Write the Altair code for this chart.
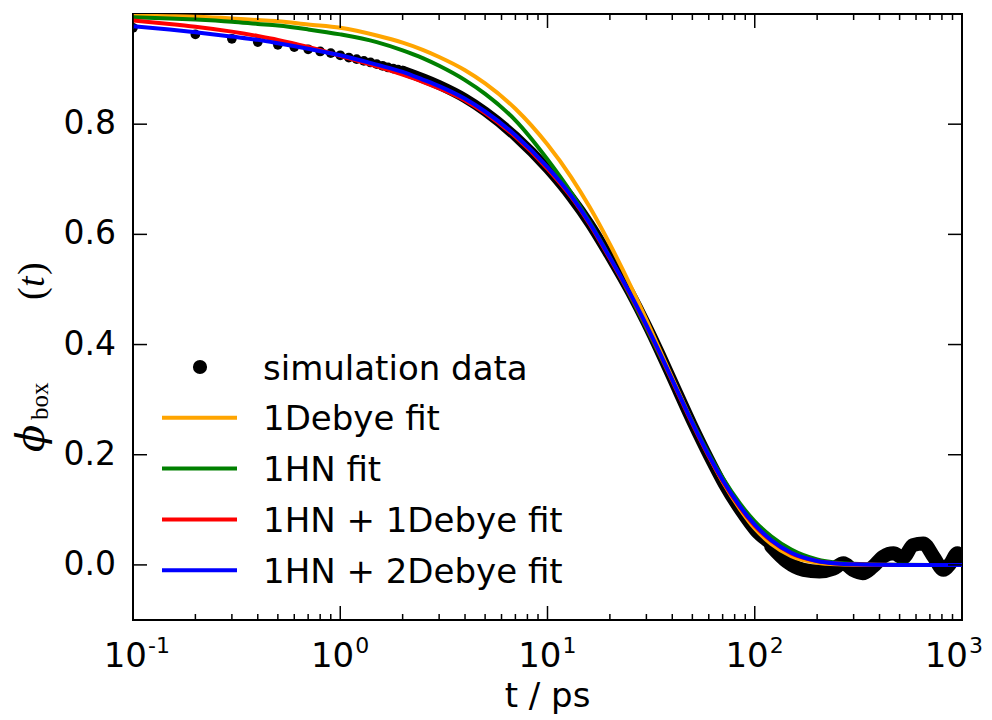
import altair as alt
import pandas as pd

# ---------------- data ----------------
t_fit = [0.1, 0.15, 0.2, 0.3, 0.4, 0.5, 0.7, 1, 1.5, 2, 2.5, 3, 4, 5, 7, 10, 13, 16, 20,
         25, 30, 35, 40, 50, 60, 70, 85, 100, 120, 150, 200, 250, 300, 400, 500, 700, 1000]

debye1 = [0.997, 0.996, 0.995, 0.992, 0.989, 0.987, 0.981, 0.975, 0.961, 0.948, 0.935, 0.922,
          0.898, 0.874, 0.828, 0.763, 0.704, 0.649, 0.582, 0.509, 0.445, 0.388, 0.339, 0.259,
          0.198, 0.151, 0.101, 0.066, 0.038, 0.016, 0.004, 0.001, 0.0003, 0.0, 0.0, 0.0, 0.0]

hn1 = [0.994, 0.992, 0.990, 0.986, 0.982, 0.979, 0.972, 0.963, 0.949, 0.934, 0.920, 0.906,
       0.880, 0.855, 0.807, 0.736, 0.676, 0.622, 0.558, 0.489, 0.430, 0.379, 0.334, 0.259,
       0.202, 0.158, 0.111, 0.079, 0.052, 0.028, 0.010, 0.004, 0.002, 0.0005, 0.0002, 0.0, 0.0]

hn1_debye1 = [0.988, 0.982, 0.977, 0.968, 0.960, 0.953, 0.940, 0.924, 0.905, 0.890, 0.877, 0.865,
              0.843, 0.820, 0.777, 0.719, 0.668, 0.618, 0.556, 0.491, 0.433, 0.381, 0.334, 0.256,
              0.197, 0.152, 0.104, 0.071, 0.044, 0.021, 0.007, 0.0025, 0.001, 0.0002, 0.0, 0.0, 0.0]

hn1_debye2 = [0.978, 0.972, 0.967, 0.959, 0.953, 0.947, 0.937, 0.925, 0.908, 0.895, 0.881, 0.869,
              0.846, 0.823, 0.780, 0.722, 0.670, 0.620, 0.558, 0.493, 0.435, 0.383, 0.336, 0.258,
              0.199, 0.154, 0.106, 0.073, 0.045, 0.022, 0.007, 0.0025, 0.001, 0.0002, 0.0, 0.0, 0.0]

# simulation data: separate points at short times ...
t_sim_points = [0.1, 0.2, 0.3, 0.4, 0.5, 0.6, 0.7, 0.8, 0.9, 1.0,
                1.1, 1.2, 1.3, 1.4, 1.5, 1.6, 1.7, 1.8, 1.9, 2.0]
phi_sim_points = [0.975, 0.963, 0.955, 0.949, 0.944, 0.940, 0.936, 0.932, 0.929, 0.925,
                  0.921, 0.918, 0.915, 0.912, 0.909, 0.906, 0.903, 0.901, 0.899, 0.897]
# ... and the dense, overlapping points at longer times
t_sim_dense = [2, 3, 4, 5, 7, 10, 13, 16, 20, 25, 30, 35, 40, 50, 60, 70, 85, 100, 120, 143,
               172, 205, 239, 268, 297, 332, 370, 417, 467, 520, 580, 650, 729, 813, 880, 950, 1000]
phi_sim_dense = [0.897, 0.871, 0.847, 0.823, 0.778, 0.719, 0.667, 0.619, 0.559, 0.495, 0.437,
                 0.384, 0.336, 0.256, 0.195, 0.147, 0.096, 0.060, 0.034, 0.006, -0.009, -0.012,
                 -0.007, 0.003, -0.009, -0.015, -0.004, 0.015, 0.021, 0.013, 0.036, 0.039, 0.015,
                 -0.009, 0.003, 0.021, 0.015]

series_names = ["1Debye fit", "1HN fit", "1HN + 1Debye fit", "1HN + 2Debye fit"]
series_colors = ["#FFA500", "#008000", "#FF0000", "#0000FF"]
series_values = [debye1, hn1, hn1_debye1, hn1_debye2]
sim_label = "simulation data"

x_major = [0.1, 1, 10, 100, 1000]
x_exponents = ["-1", "0", "1", "2", "3"]
x_minor = [0.2, 0.3, 0.4, 0.5, 0.6, 0.7, 0.8, 0.9,
           2, 3, 4, 5, 6, 7, 8, 9,
           20, 30, 40, 50, 60, 70, 80, 90,
           200, 300, 400, 500, 600, 700, 800, 900]
y_major = [0.0, 0.2, 0.4, 0.6, 0.8]

# ---------------- layout ----------------
W, H = 829, 606
FONT = "DejaVu Sans"
SERIF = "Liberation Serif"
MAJ, MIN = 14, 6

xs = alt.Scale(type="log", domain=[0.1, 1000], nice=False)
ys = alt.Scale(domain=[-0.1, 1.0], nice=False, zero=False)


def X(f="t"):
    return alt.X(f"{f}:Q", scale=xs, axis=None)


def Y(f="phi"):
    return alt.Y(f"{f}:Q", scale=ys, axis=None)


one = pd.DataFrame({"k": [0]})
layers = []

# simulation data (black)
dense_df = pd.DataFrame({"t": t_sim_dense, "phi": phi_sim_dense})
pts_df = pd.DataFrame({"t": t_sim_points, "phi": phi_sim_points})
layers.append(alt.Chart(dense_df).mark_line(color="black", strokeWidth=10, strokeCap="round",
                                            strokeJoin="round", interpolate="monotone", clip=True)
              .encode(x=X(), y=Y()))
layers.append(alt.Chart(dense_df).transform_filter("datum.t >= 120")
              .mark_line(color="black", strokeWidth=14, strokeCap="round", strokeJoin="round",
                         interpolate="monotone", clip=True)
              .encode(x=X(), y=Y()))
layers.append(alt.Chart(pts_df).mark_circle(color="black", size=95, opacity=1, clip=True)
              .encode(x=X(), y=Y()))

# fit curves
for name, col, vals in zip(series_names, series_colors, series_values):
    df = pd.DataFrame({"t": t_fit, "phi": vals})
    layers.append(alt.Chart(df).mark_line(color=col, strokeWidth=4, interpolate="monotone",
                                          clip=True)
                  .encode(x=X(), y=Y()))

# inward ticks on all four sides
xmaj_df = pd.DataFrame({"t": x_major})
xmin_df = pd.DataFrame({"t": x_minor})
ymaj_df = pd.DataFrame({"phi": y_major})
for df, ln in ((xmaj_df, MAJ), (xmin_df, MIN)):
    layers.append(alt.Chart(df).mark_rule(color="black", strokeWidth=1.5)
                  .encode(x=X(), y=alt.value(H), y2=alt.value(H - ln)))
    layers.append(alt.Chart(df).mark_rule(color="black", strokeWidth=1.5)
                  .encode(x=X(), y=alt.value(0), y2=alt.value(ln)))
layers.append(alt.Chart(ymaj_df).mark_rule(color="black", strokeWidth=1.5)
              .encode(y=Y(), x=alt.value(0), x2=alt.value(MAJ)))
layers.append(alt.Chart(ymaj_df).mark_rule(color="black", strokeWidth=1.5)
              .encode(y=Y(), x=alt.value(W), x2=alt.value(W - MAJ)))

# y tick labels
layers.append(alt.Chart(ymaj_df).mark_text(font=FONT, fontSize=33, align="right",
                                           baseline="middle", color="black")
              .encode(y=Y(), x=alt.value(-17), text=alt.Text("phi:Q", format=".1f")))

# x tick labels 10^n (the last one is nudged left to stay inside the page)
xl_df = pd.DataFrame({"t": x_major, "e": x_exponents})
for flt, shift in (("datum.t < 500", 0), ("datum.t >= 500", -8)):
    layers.append(alt.Chart(xl_df).transform_filter(flt)
                  .mark_text(text="10", font=FONT, fontSize=34, align="right",
                             baseline="alphabetic", dx=14 + shift, color="black")
                  .encode(x=X(), y=alt.value(H + 47)))
    layers.append(alt.Chart(xl_df).transform_filter(flt)
                  .mark_text(font=FONT, fontSize=22, align="left",
                             baseline="alphabetic", dx=15 + shift, color="black")
                  .encode(x=X(), y=alt.value(H + 33), text="e:N"))

# x axis title
layers.append(alt.Chart(one).mark_text(text="t / ps", font=FONT, fontSize=34, align="center",
                                       baseline="alphabetic", color="black")
              .encode(x=alt.value(W / 2), y=alt.value(H + 87)))

# y axis title  phi_box (t)
ytitle = [("\u03d5", "DejaVu Serif", 40, "italic", -89, 438),
          ("box", SERIF, 25, "normal", -85, 406),
          ("(", SERIF, 38, "normal", -89, 286),
          ("t", SERIF, 38, "italic", -89, 273),
          (")", SERIF, 38, "normal", -89, 261)]
for txt, fnt, fs, sty, px, py in ytitle:
    layers.append(alt.Chart(one).mark_text(text=txt, font=fnt, fontSize=fs, fontStyle=sty,
                                           angle=270, align="left", baseline="alphabetic",
                                           color="black")
                  .encode(x=alt.value(px), y=alt.value(py)))

# legend
LEG_Y0, LEG_DY = 353, 50.8
layers.append(alt.Chart(one).mark_point(shape="circle", filled=True, color="black", size=200,
                                        opacity=1)
              .encode(x=alt.value(67), y=alt.value(LEG_Y0)))
layers.append(alt.Chart(one).mark_text(text=sim_label, font=FONT, fontSize=34, align="left",
                                       baseline="alphabetic", color="black")
              .encode(x=alt.value(130), y=alt.value(LEG_Y0 + 12.5)))
for i, (name, col) in enumerate(zip(series_names, series_colors), start=1):
    yy = LEG_Y0 + i * LEG_DY
    layers.append(alt.Chart(one).mark_rule(color=col, strokeWidth=4)
                  .encode(x=alt.value(29), x2=alt.value(104), y=alt.value(yy)))
    layers.append(alt.Chart(one).mark_text(text=name, font=FONT, fontSize=34, align="left",
                                           baseline="alphabetic", color="black")
                  .encode(x=alt.value(130), y=alt.value(yy + 12.5)))

chart = (alt.layer(*layers)
         .properties(width=W, height=H,
                     autosize=alt.AutoSizeParams(type="none"),
                     padding={"left": 125, "top": 6, "right": 22, "bottom": 94},
                     background="white")
         .configure_view(stroke="black", strokeWidth=2)
         .configure_axis(grid=False))

chart.save("out.html", embed_options={"renderer": "svg", "actions": False})
